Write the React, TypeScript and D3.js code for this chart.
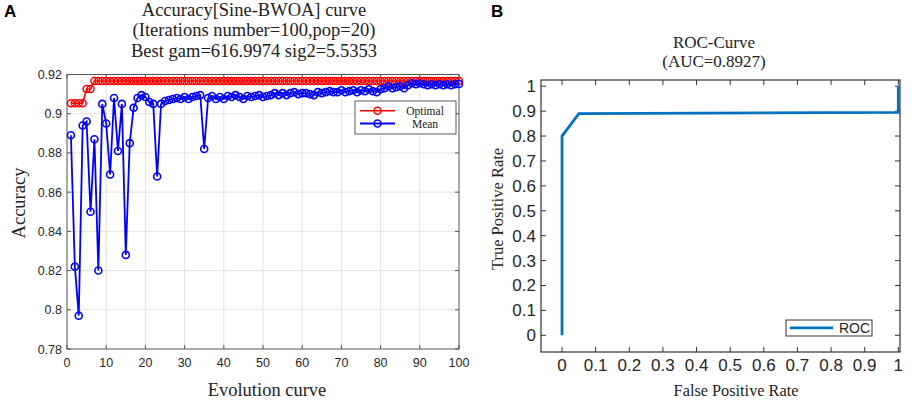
import * as d3 from 'd3';

// Panel A: accuracy per iteration
const optimalAcc = [
  0.9053, 0.9053, 0.9053, 0.9053, 0.9126, 0.9126, 0.9167, 0.9167, 0.9167, 0.9167,
  0.9167, 0.9167, 0.9167, 0.9167, 0.9167, 0.9167, 0.9167, 0.9167, 0.9167, 0.9167,
  0.9167, 0.9167, 0.9167, 0.9167, 0.9167, 0.9167, 0.9167, 0.9167, 0.9167, 0.9167,
  0.9167, 0.9167, 0.9167, 0.9167, 0.9167, 0.9167, 0.9167, 0.9167, 0.9167, 0.9167,
  0.9167, 0.9167, 0.9167, 0.9167, 0.9167, 0.9167, 0.9167, 0.9167, 0.9167, 0.9167,
  0.9167, 0.9167, 0.9167, 0.9167, 0.9167, 0.9167, 0.9167, 0.9167, 0.9167, 0.9167,
  0.9167, 0.9167, 0.9167, 0.9167, 0.9167, 0.9167, 0.9167, 0.9167, 0.9167, 0.9167,
  0.9167, 0.9167, 0.9167, 0.9167, 0.9167, 0.9167, 0.9167, 0.9167, 0.9167, 0.9167,
  0.9167, 0.9167, 0.9167, 0.9167, 0.9167, 0.9167, 0.9167, 0.9167, 0.9167, 0.9167,
  0.9167, 0.9167, 0.9167, 0.9167, 0.9167, 0.9167, 0.9167, 0.9167, 0.9167, 0.9167,
];

const meanAcc = [
  0.889, 0.822, 0.797, 0.894, 0.896, 0.85, 0.887, 0.82, 0.905, 0.895,
  0.869, 0.908, 0.881, 0.905, 0.828, 0.885, 0.903, 0.908, 0.9095, 0.9085,
  0.906, 0.905, 0.868, 0.905, 0.9065, 0.907, 0.9075, 0.908, 0.9075, 0.9085,
  0.9075, 0.9085, 0.909, 0.9095, 0.882, 0.908, 0.909, 0.9075, 0.9085, 0.9075,
  0.909, 0.9085, 0.9095, 0.9085, 0.9075, 0.909, 0.9085, 0.909, 0.9095, 0.9085,
  0.909, 0.9095, 0.9105, 0.9095, 0.9105, 0.9095, 0.9105, 0.911, 0.91, 0.9105,
  0.9105, 0.91, 0.9095, 0.911, 0.9105, 0.911, 0.9115, 0.911, 0.911, 0.912,
  0.911, 0.9115, 0.912, 0.911, 0.912, 0.9115, 0.9125, 0.9115, 0.911, 0.9125,
  0.913, 0.914, 0.913, 0.9135, 0.914, 0.913, 0.9145, 0.9155, 0.915, 0.9155,
  0.915, 0.9145, 0.915, 0.9145, 0.915, 0.9145, 0.915, 0.9145, 0.915, 0.9152,
];

const xTicksA = [0, 10, 20, 30, 40, 50, 60, 70, 80, 90, 100];
const yTicksA = [0.78, 0.8, 0.82, 0.84, 0.86, 0.88, 0.9, 0.92];

// Panel B: ROC curve
const rocFpr = [0, 0, 0.05, 1, 1];
const rocTpr = [0, 0.8, 0.89, 0.895, 1];
const ticksB = [0, 0.1, 0.2, 0.3, 0.4, 0.5, 0.6, 0.7, 0.8, 0.9, 1];

const serif = '"Liberation Serif", "Times New Roman", serif';
const sans = '"Liberation Sans", Arial, sans-serif';

const PanelA = () => {
  const x = d3.scaleLinear().domain([0, 100]).range([67, 459]);
  const y = d3.scaleLinear().domain([0.78, 0.92]).range([349, 74.5]);
  const line = d3
    .line<number>()
    .x((_, i) => x(i + 1))
    .y((d) => y(d));
  const [x0, x1] = x.range();
  const [y0, y1] = y.range();

  return (
    <g>
      <text x={4} y={17} fontFamily={sans} fontWeight="bold" fontSize={17}>A</text>
      <g fontFamily={serif} fontSize={18.5} fill="#222" textAnchor="middle">
        <text x={254} y={15.5}>Accuracy[Sine-BWOA] curve</text>
        <text x={254} y={36.3}>(Iterations number=100,pop=20)</text>
        <text x={254} y={57}>Best gam=616.9974 sig2=5.5353</text>
        <text x={267} y={396}>Evolution curve</text>
        <text transform="translate(25,203) rotate(-90)">Accuracy</text>
      </g>
      <rect x={x0} y={y1} width={x1 - x0} height={y0 - y1} fill="#fff" />
      {xTicksA.slice(1, -1).map((t) => (
        <line key={'gx' + t} x1={x(t)} x2={x(t)} y1={y0} y2={y1} stroke="#e3e3e3" />
      ))}
      {yTicksA.slice(1, -1).map((t) => (
        <line key={'gy' + t} x1={x0} x2={x1} y1={y(t)} y2={y(t)} stroke="#e3e3e3" />
      ))}
      {xTicksA.map((t) => (
        <g key={'tx' + t} stroke="#555">
          <line x1={x(t)} x2={x(t)} y1={y0} y2={y0 - 4} />
          <line x1={x(t)} x2={x(t)} y1={y1} y2={y1 + 4} />
        </g>
      ))}
      {yTicksA.map((t) => (
        <g key={'ty' + t} stroke="#555">
          <line x1={x0} x2={x0 + 4} y1={y(t)} y2={y(t)} />
          <line x1={x1} x2={x1 - 4} y1={y(t)} y2={y(t)} />
        </g>
      ))}
      <rect x={x0} y={y1} width={x1 - x0} height={y0 - y1} fill="none" stroke="#555" />
      <g fontFamily={sans} fontSize={12.5} fill="#262626">
        {xTicksA.map((t) => (
          <text key={'lx' + t} x={x(t)} y={367} textAnchor="middle">{t}</text>
        ))}
        {yTicksA.map((t) => (
          <text key={'ly' + t} x={62} y={y(t) + 4.5} textAnchor="end">{t}</text>
        ))}
      </g>
      <path d={line(optimalAcc) ?? ''} fill="none" stroke="#ff0000" strokeWidth={1.6} />
      {optimalAcc.map((d, i) => (
        <circle key={'o' + i} cx={x(i + 1)} cy={y(d)} r={3.5} fill="none" stroke="#ff0000" strokeWidth={1.5} />
      ))}
      <path d={line(meanAcc) ?? ''} fill="none" stroke="#0000ff" strokeWidth={1.8} />
      {meanAcc.map((d, i) => (
        <circle key={'m' + i} cx={x(i + 1)} cy={y(d)} r={3.5} fill="none" stroke="#0000ff" strokeWidth={1.6} />
      ))}
      <g>
        <rect x={355} y={101} width={101} height={33} fill="#fff" stroke="#333" strokeWidth={0.8} />
        <line x1={360} x2={395} y1={110.7} y2={110.7} stroke="#ff0000" strokeWidth={1.6} />
        <circle cx={377.5} cy={110.7} r={3.5} fill="none" stroke="#ff0000" strokeWidth={1.5} />
        <line x1={360} x2={395} y1={123.5} y2={123.5} stroke="#0000ff" strokeWidth={1.8} />
        <circle cx={377.5} cy={123.5} r={3.5} fill="none" stroke="#0000ff" strokeWidth={1.6} />
        <g fontFamily={serif} fontSize={11.5} fill="#222" textAnchor="middle">
          <text x={425} y={114.5}>Optimal</text>
          <text x={425} y={127.5}>Mean</text>
        </g>
      </g>
    </g>
  );
};

const PanelB = () => {
  const x = d3.scaleLinear().domain([-0.0625, 1.005]).range([541, 900]);
  const y = d3.scaleLinear().domain([-0.067, 1.025]).range([352, 80]);
  const line = d3
    .line<number>()
    .x((d) => x(d))
    .y((_, i) => y(rocTpr[i]));
  const [x0, x1] = x.range();
  const [y0, y1] = y.range();

  return (
    <g>
      <text x={491} y={17} fontFamily={sans} fontWeight="bold" fontSize={17}>B</text>
      <g fontFamily={serif} fontSize={17} fill="#222" textAnchor="middle">
        <text x={714} y={48}>ROC-Curve</text>
        <text x={714} y={67}>(AUC=0.8927)</text>
        <text x={736} y={396} fontSize={16.3}>False Positive Rate</text>
        <text transform="translate(503,209) rotate(-90)" fontSize={16.5}>True Positive Rate</text>
      </g>
      <rect x={x0} y={y1} width={x1 - x0} height={y0 - y1} fill="#fff" stroke="#333" strokeWidth={1.2} />
      {ticksB.map((t) => (
        <g key={'t' + t} stroke="#333">
          <line x1={x(t)} x2={x(t)} y1={y0} y2={y0 - 5} />
          <line x1={x(t)} x2={x(t)} y1={y1} y2={y1 + 5} />
          <line x1={x0} x2={x0 + 5} y1={y(t)} y2={y(t)} />
          <line x1={x1} x2={x1 - 5} y1={y(t)} y2={y(t)} />
        </g>
      ))}
      <g fontFamily={sans} fontSize={17} fill="#262626">
        {ticksB.map((t) => (
          <text key={'lx' + t} x={x(t)} y={371} textAnchor="middle">{t}</text>
        ))}
        {ticksB.map((t) => (
          <text key={'ly' + t} x={536} y={y(t) + 6} textAnchor="end">{t}</text>
        ))}
      </g>
      <path d={line(rocFpr) ?? ''} fill="none" stroke="#0072BD" strokeWidth={2.8} />
      <rect x={786} y={320} width={86} height={16} fill="#fff" stroke="#333" strokeWidth={1} />
      <line x1={790} x2={833} y1={327.8} y2={327.8} stroke="#0072BD" strokeWidth={2.8} />
      <text x={839} y={333} fontFamily={sans} fontSize={14} fill="#262626">ROC</text>
    </g>
  );
};

const App = () => (
  <svg
    width={913}
    height={400}
    style={{ position: 'absolute', left: 0, top: 0, background: '#fff' }}
  >
    <PanelA />
    <PanelB />
  </svg>
);

export default App;
